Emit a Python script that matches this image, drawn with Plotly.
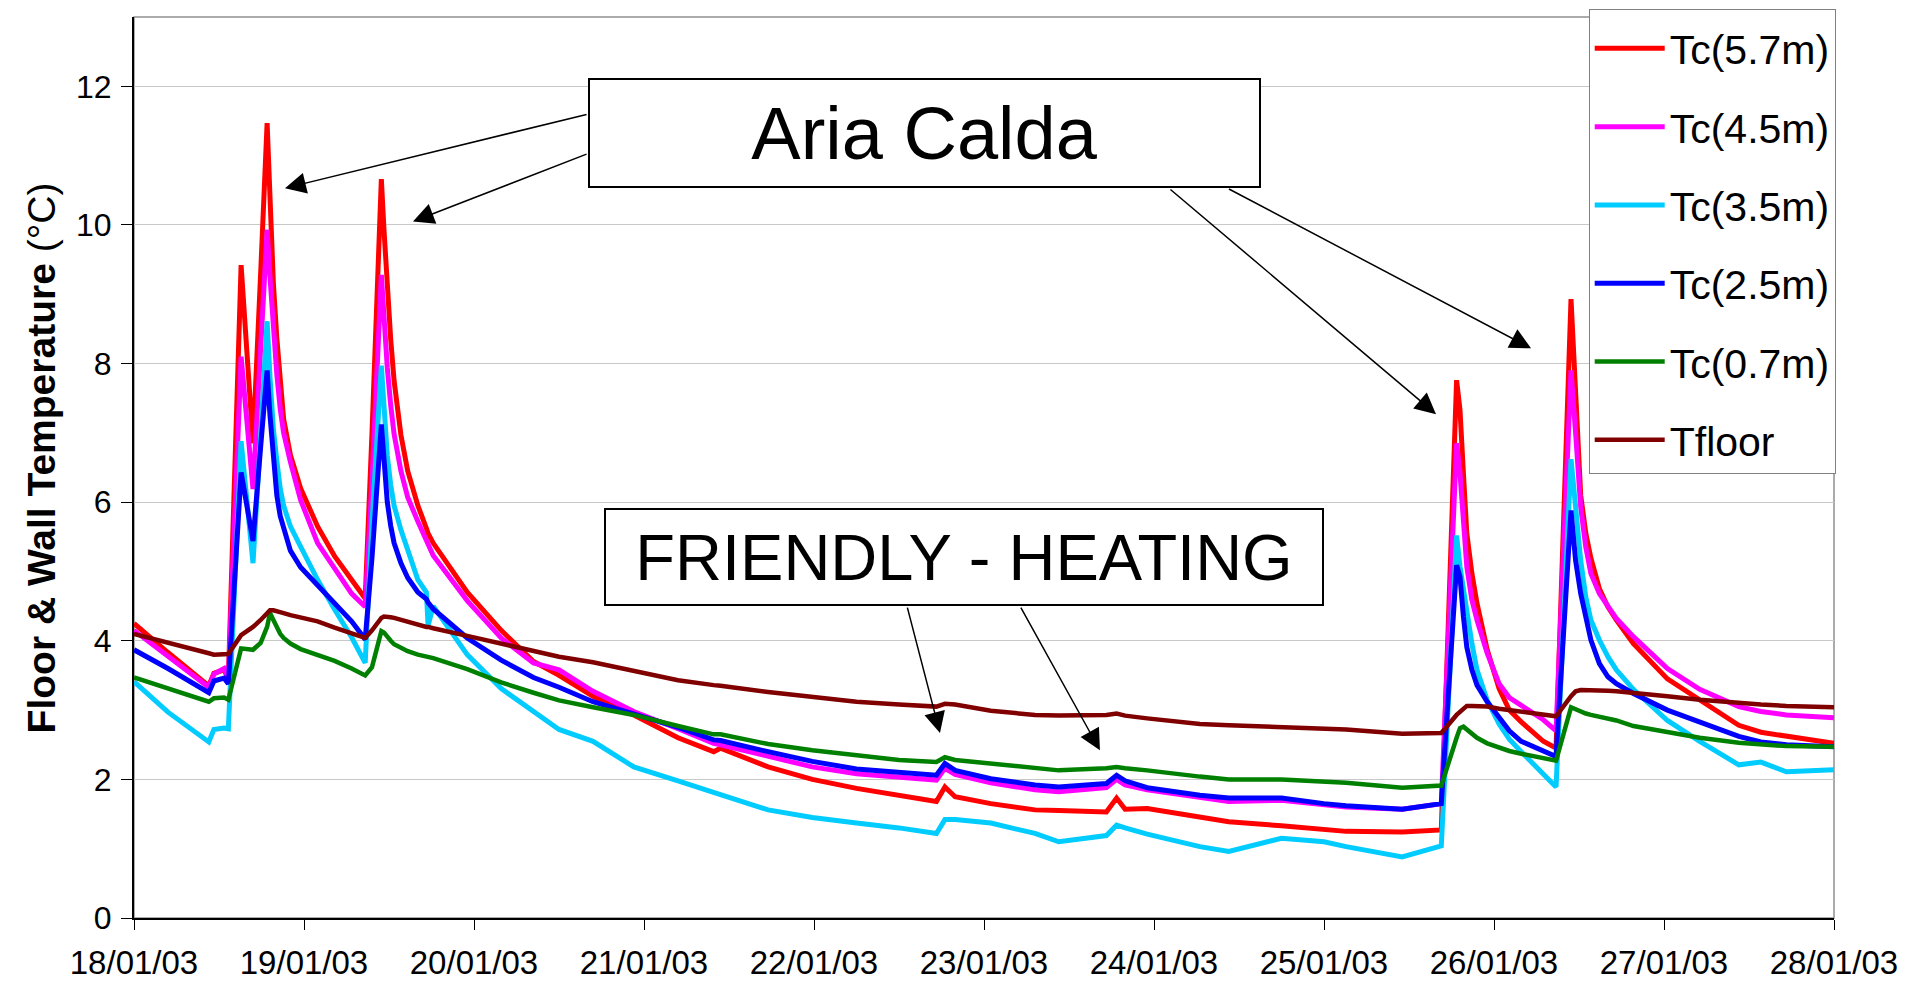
import pandas as pd
import plotly.graph_objects as go

START = pd.Timestamp('2003-01-18')

# reading times, days after 18/01/03 00:00
days = [0, 0.2, 0.44, 0.47, 0.53, 0.555, 0.63, 0.70, 0.745, 0.783,
        0.80, 0.82, 0.84, 0.86, 0.88, 0.92, 0.98, 1.08, 1.18, 1.28,
        1.36, 1.40, 1.455, 1.47, 1.49, 1.51, 1.53, 1.57, 1.61, 1.67,
        1.72, 1.73, 1.76, 1.96, 2.16, 2.35, 2.5, 2.7, 2.94, 3.2,
        3.41, 3.45, 3.73, 3.99, 4.25, 4.5, 4.72, 4.77, 4.83, 5.04,
        5.3, 5.44, 5.72, 5.78, 5.83, 5.96, 6.27, 6.44, 6.75, 7.0,
        7.13, 7.46, 7.69, 7.78, 7.80, 7.82, 7.84, 7.87, 7.90, 7.96,
        8.03, 8.09, 8.16, 8.29, 8.365, 8.453, 8.48, 8.51, 8.54, 8.57,
        8.62, 8.67, 8.72, 8.82, 9.02, 9.21, 9.44, 9.57, 9.72, 10.0]

tc_57 = [4.25, 3.83, 3.35, 3.53, 3.58, 3.45, 9.42, 6.85, 9.3, 11.47,
         10.4, 9.15, 8.37, 7.75, 7.2, 6.68, 6.2, 5.65, 5.22, 4.88,
         4.61, 7.0, 10.66, 9.95, 9.1, 8.35, 7.75, 6.97, 6.45, 5.95,
         5.62, 5.55, 5.41, 4.7, 4.15, 3.7, 3.5, 3.2, 2.93, 2.6,
         2.4, 2.45, 2.18, 2.0, 1.87, 1.77, 1.68, 1.89, 1.75, 1.65,
         1.56, 1.55, 1.53, 1.73, 1.57, 1.58, 1.46, 1.39, 1.33, 1.27,
         1.25, 1.24, 1.27, 7.76, 7.33, 6.42, 5.55, 4.97, 4.54, 3.87,
         3.31, 3.0, 2.83, 2.55, 2.45, 8.93, 7.47, 6.1, 5.55, 5.19,
         4.75, 4.49, 4.3, 3.96, 3.45, 3.14, 2.78, 2.68, 2.62, 2.52]

tc_45 = [4.15, 3.78, 3.33, 3.52, 3.6, 3.45, 8.1, 6.19, 8.2, 9.93,
         9.25, 8.45, 7.85, 7.35, 7.0, 6.58, 6.03, 5.41, 5.03, 4.68,
         4.49, 6.3, 9.28, 8.65, 7.94, 7.4, 6.98, 6.45, 6.07, 5.72,
         5.45, 5.38, 5.23, 4.58, 4.04, 3.68, 3.58, 3.27, 2.98, 2.73,
         2.52, 2.5, 2.33, 2.18, 2.08, 2.03, 1.99, 2.16, 2.07, 1.95,
         1.85, 1.82, 1.88, 2.0, 1.92, 1.85, 1.73, 1.68, 1.7, 1.63,
         1.6, 1.57, 1.65, 6.85, 6.42, 5.74, 5.07, 4.59, 4.3, 3.82,
         3.38, 3.18, 3.07, 2.86, 2.7, 7.9, 7.0, 5.93, 5.35, 4.97,
         4.68, 4.49, 4.32, 4.06, 3.6, 3.3, 3.05, 2.98, 2.93, 2.89]

tc_35 = [3.41, 2.97, 2.54, 2.72, 2.74, 2.73, 6.88, 5.12, 6.95, 8.61,
         7.8, 7.05, 6.6, 6.2, 5.95, 5.65, 5.36, 4.88, 4.45, 4.05,
         3.68, 5.7, 7.97, 7.28, 6.67, 6.25, 5.95, 5.6, 5.3, 4.88,
         4.7, 4.22, 4.5, 3.8, 3.31, 2.97, 2.72, 2.55, 2.18, 1.98,
         1.8, 1.78, 1.56, 1.45, 1.37, 1.3, 1.22, 1.42, 1.42, 1.37,
         1.22, 1.1, 1.19, 1.34, 1.3, 1.21, 1.03, 0.96, 1.15, 1.1,
         1.03, 0.88, 1.04, 5.52, 5.07, 4.73, 4.44, 3.96, 3.58, 3.14,
         2.8, 2.58, 2.4, 2.09, 1.89, 6.62, 5.84, 5.16, 4.63, 4.3,
         4.01, 3.77, 3.58, 3.3, 2.85, 2.55, 2.21, 2.25, 2.11, 2.14]

tc_25 = [3.87, 3.6, 3.25, 3.42, 3.46, 3.38, 6.43, 5.44, 6.8, 7.9,
         7.25, 6.55, 6.1, 5.8, 5.62, 5.3, 5.06, 4.8, 4.52, 4.28,
         4.02, 5.2, 7.12, 6.55, 6.0, 5.66, 5.41, 5.12, 4.91, 4.7,
         4.6, 4.55, 4.46, 4.04, 3.72, 3.47, 3.33, 3.12, 2.95, 2.75,
         2.57, 2.56, 2.4, 2.26, 2.15, 2.1, 2.06, 2.23, 2.13, 2.01,
         1.92, 1.89, 1.94, 2.06, 1.98, 1.88, 1.77, 1.73, 1.73, 1.65,
         1.62, 1.57, 1.65, 5.09, 4.92, 4.35, 3.91, 3.58, 3.36, 3.12,
         2.88, 2.7, 2.55, 2.4, 2.33, 5.88, 5.16, 4.68, 4.3, 4.01,
         3.67, 3.48, 3.38, 3.24, 3.0, 2.82, 2.62, 2.54, 2.5, 2.47]

tc_07 = [3.47, 3.31, 3.12, 3.17, 3.18, 3.15, 3.89, 3.87, 3.97, 4.2,
         4.4, 4.3, 4.19, 4.1, 4.04, 3.96, 3.88, 3.8, 3.71, 3.6,
         3.5, 3.62, 4.14, 4.12, 4.05, 4.0, 3.95, 3.9, 3.85, 3.8,
         3.77, 3.77, 3.75, 3.59, 3.4, 3.25, 3.14, 3.04, 2.93, 2.77,
         2.65, 2.65, 2.51, 2.42, 2.35, 2.28, 2.25, 2.32, 2.28, 2.23,
         2.16, 2.13, 2.16, 2.18, 2.16, 2.13, 2.04, 2.0, 2.0, 1.97,
         1.95, 1.88, 1.91, 2.6, 2.74, 2.76, 2.72, 2.66, 2.6, 2.52,
         2.46, 2.41, 2.37, 2.31, 2.27, 3.04, 3.01, 2.98, 2.95, 2.93,
         2.9, 2.87, 2.85, 2.77, 2.68, 2.6, 2.53, 2.5, 2.48, 2.47]

t_floor = [4.1, 3.98, 3.82, 3.8, 3.8, 3.81, 4.08, 4.2, 4.3, 4.4,
           4.44, 4.44, 4.43, 4.42, 4.4, 4.37, 4.34, 4.28, 4.19, 4.1,
           4.04, 4.15, 4.33, 4.35, 4.35, 4.34, 4.33, 4.3, 4.27, 4.24,
           4.2, 4.2, 4.18, 4.07, 3.96, 3.85, 3.77, 3.69, 3.57, 3.43,
           3.36, 3.35, 3.26, 3.19, 3.12, 3.08, 3.05, 3.09, 3.08, 2.99,
           2.93, 2.92, 2.93, 2.95, 2.92, 2.88, 2.8, 2.78, 2.76, 2.74,
           2.72, 2.66, 2.67, 2.93, 2.98, 3.03, 3.06, 3.06, 3.06, 3.05,
           3.02, 3.0, 2.98, 2.93, 2.91, 3.2, 3.27, 3.29, 3.29, 3.29,
           3.28, 3.28, 3.27, 3.25, 3.2, 3.15, 3.1, 3.08, 3.06, 3.04]

series_names = ['Tc(5.7m)', 'Tc(4.5m)', 'Tc(3.5m)', 'Tc(2.5m)', 'Tc(0.7m)', 'Tfloor']
series_values = [tc_57, tc_45, tc_35, tc_25, tc_07, t_floor]
series_colors = ['#FF0000', '#FF00FF', '#00CCFF', '#0000FF', '#008000', '#800000']

FONT = 'Liberation Sans, Arial, sans-serif'


def at(d: float) -> pd.Timestamp:
    """
    Day offset -> timestamp on the chart's date axis
    """
    return START + pd.Timedelta(days=d)


def arrow(tail_day, tail_val, head_day, head_val) -> dict:
    return dict(
        x=at(head_day), y=head_val, ax=at(tail_day), ay=tail_val,
        xref='x', yref='y', axref='x', ayref='y',
        text='', showarrow=True, arrowhead=2, arrowsize=2.8,
        arrowwidth=1.5, arrowcolor='black', standoff=0
    )


def box(text, x, y, w, h, size) -> dict:
    return dict(
        x=x, y=y, xref='paper', yref='paper', xanchor='center', yanchor='middle',
        text=text, showarrow=False, width=w, height=h, align='center', valign='middle',
        font=dict(family=FONT, size=size, color='black'),
        bgcolor='white', bordercolor='black', borderwidth=2, borderpad=0
    )


times = [at(d) for d in days]

fig = go.Figure()
for name, values, col in zip(series_names, series_values, series_colors):
    fig.add_trace(go.Scatter(
        x=times, y=values, mode='lines', name=name, legendgroup=name,
        line=dict(color=col, width=5 if name in series_names[:4] else 4.5)
    ))

annotations = [
    box('Aria Calda', 0.465, 0.871, 669, 106, 74),
    box('FRIENDLY - HEATING', 0.488, 0.4007, 716, 94, 65),
    arrow(2.671, 11.6, 0.888, 10.53),
    arrow(2.671, 11.03, 1.641, 10.05),
    arrow(6.088, 10.53, 7.659, 7.27),
    arrow(6.432, 10.53, 8.218, 8.22),
    arrow(4.547, 4.5, 4.741, 2.67),
    arrow(5.212, 4.5, 5.682, 2.42),
    # y axis title, kept as an annotation so it sits where the original does
    dict(x=-0.0545, y=0.5105, xref='paper', yref='paper', xanchor='center', yanchor='middle',
         text='<b>Floor & Wall Temperature</b> (°C)', textangle=-90, showarrow=False,
         font=dict(family=FONT, size=39, color='black')),
]

# the page body keeps its default 8px margin, so the figure is 8px smaller
# and its left/top margins 8px narrower to land where the original is
fig.update_layout(
    width=1899, height=975,
    margin=dict(l=126, r=73, t=9, b=65, autoexpand=False),
    paper_bgcolor='white', plot_bgcolor='white',
    font=dict(family=FONT, size=33, color='black'),
    showlegend=True,
    legend=dict(
        x=1.001, xanchor='right', y=1.0089, yanchor='top',
        bgcolor='white', bordercolor='#808080', borderwidth=1,
        font=dict(family=FONT, size=41, color='black'),
        title=dict(text='&nbsp;', font=dict(size=4)),
        tracegroupgap=22, itemwidth=70
    ),
    annotations=annotations,
    shapes=[dict(type='rect', xref='paper', yref='paper', x0=0, x1=1, y0=0, y1=1,
                 line=dict(color='#909090', width=1.5), layer='below')]
)

fig.update_xaxes(
    type='date', range=[at(0), at(10)],
    tick0=at(0), dtick=86400000, tickformat='%d/%m/%y',
    showgrid=False, zeroline=False,
    showline=True, linecolor='black', linewidth=2,
    ticks='outside', ticklen=10, tickcolor='black', tickwidth=1,
    ticklabelstandoff=4, automargin=False,
    tickfont=dict(family=FONT, size=33, color='black')
)

fig.update_yaxes(
    range=[0, 13], dtick=2, tick0=0,
    showgrid=True, gridcolor='#C8C8C8', gridwidth=1, zeroline=False,
    showline=True, linecolor='black', linewidth=2,
    ticks='outside', ticklen=11, tickcolor='black', tickwidth=1,
    ticklabelstandoff=3, automargin=False,
    tickfont=dict(family=FONT, size=32, color='black')
)

fig.write_html("out.html")
